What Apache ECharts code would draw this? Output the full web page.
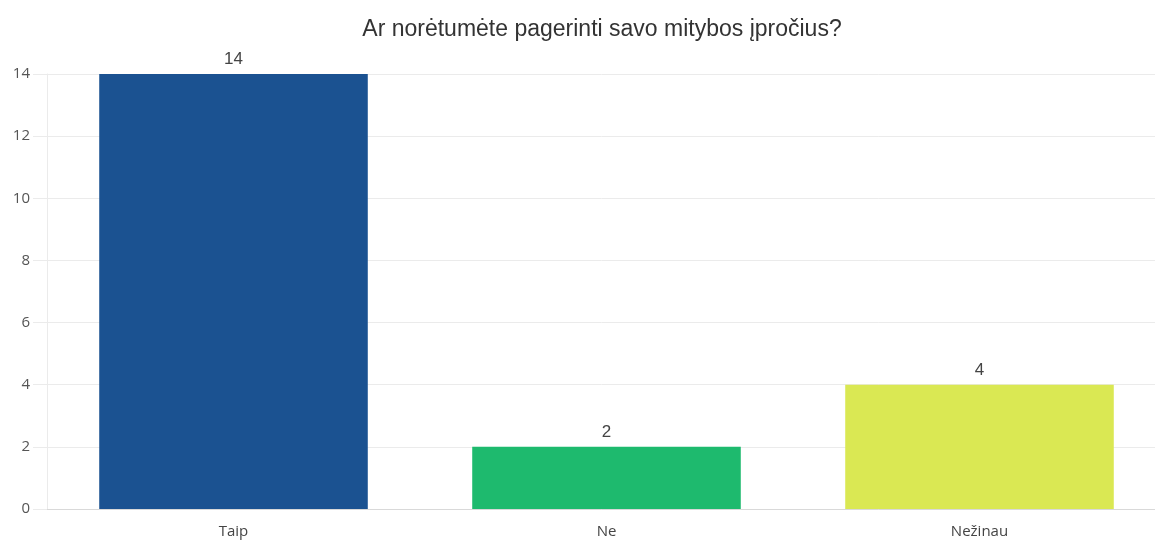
<!DOCTYPE html>
<html>
<head>
<meta charset="utf-8">
<script src="https://cdn.jsdelivr.net/npm/echarts@6/dist/echarts.min.js"></script>
<style>
  html, body { margin: 0; padding: 0; background: #fff; }
  #chart { width: 1155px; height: 541px; }
</style>
</head>
<body>
<div id="chart"></div>
<script>
const title = 'Ar norėtumėte pagerinti savo mitybos įpročius?';
const categories = ['Taip', 'Ne', 'Nežinau'];
const values = [14, 2, 4];
const barColors = ['#1b5291', '#1eba6e', '#dae853'];
const yTicks = [0, 2, 4, 6, 8, 10, 12, 14];

const chart = echarts.init(document.getElementById('chart'), null, { renderer: 'canvas' });

chart.setOption({
  animation: false,
  backgroundColor: '#ffffff',
  title: {
    text: title,
    left: 597,
    textAlign: 'center',
    top: 13,
    textStyle: {
      fontFamily: 'Liberation Sans, Arial, sans-serif',
      fontSize: 23,
      fontWeight: 'normal',
      color: '#333333'
    }
  },
  // the plot runs a little past the right edge of the canvas
  grid: { left: 47, width: 1119, top: 74, bottom: 32, containLabel: false, outerBoundsMode: 'none' },
  xAxis: {
    type: 'category',
    data: categories,
    axisLine: { show: true, lineStyle: { color: '#d9d9d9', width: 1 } },
    axisTick: { show: false },
    axisLabel: {
      margin: 15,
      fontFamily: 'Open Sans, sans-serif',
      fontSize: 15,
      color: '#444444'
    },
    splitLine: { show: false }
  },
  yAxis: {
    type: 'value',
    min: yTicks[0],
    max: yTicks[yTicks.length - 1],
    interval: yTicks[1] - yTicks[0],
    axisLine: { show: true, lineStyle: { color: '#ebebeb', width: 1 } },
    axisTick: { show: true, length: 14, lineStyle: { color: '#ebebeb' } },
    axisLabel: {
      margin: 17,
      fontFamily: 'Open Sans, sans-serif',
      fontSize: 15,
      color: '#555555'
    },
    splitLine: { show: true, lineStyle: { color: '#ebebeb', width: 1 } }
  },
  series: [{
    type: 'bar',
    data: values.map((v, i) => ({ value: v, itemStyle: { color: barColors[i] } })),
    barCategoryGap: '28%',
    label: {
      show: true,
      position: 'top',
      distance: 6,
      fontFamily: 'Liberation Sans, Arial, sans-serif',
      fontSize: 17,
      color: '#444444'
    }
  }]
});
</script>
</body>
</html>
